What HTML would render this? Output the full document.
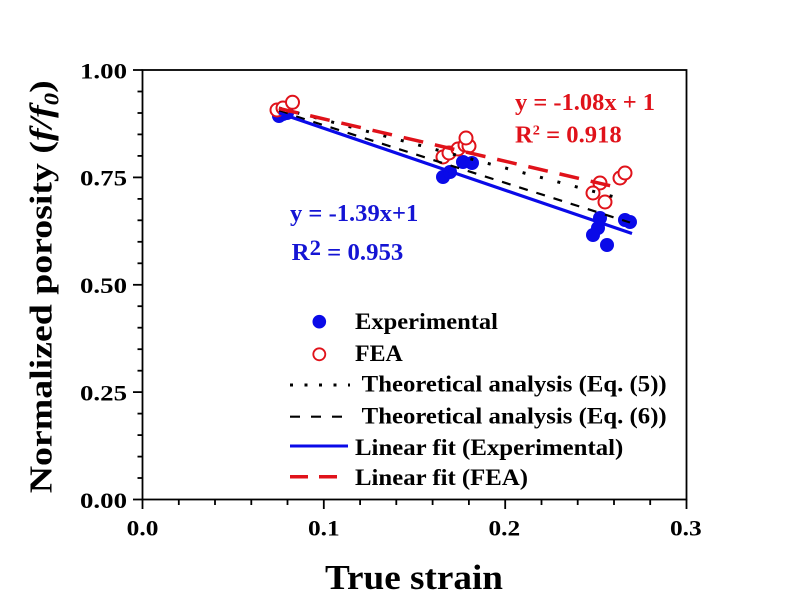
<!DOCTYPE html>
<html><head><meta charset="utf-8"><style>
html,body{margin:0;padding:0;background:#fff;}
svg{display:block;}
text{font-family:"Liberation Serif","Times New Roman",serif;font-weight:bold;}
</style></head><body>
<svg width="797" height="600" viewBox="0 0 797 600" xmlns="http://www.w3.org/2000/svg">
<rect width="797" height="600" fill="#fff"/>
<!-- ticks x -->
<g stroke="#000" stroke-width="1.8">
<line x1="142.5" y1="499.5" x2="142.5" y2="509"/>
<line x1="323.8" y1="499.5" x2="323.8" y2="509"/>
<line x1="505.2" y1="499.5" x2="505.2" y2="509"/>
<line x1="686.5" y1="499.5" x2="686.5" y2="509"/>
<line x1="178.8" y1="499.5" x2="178.8" y2="505"/>
<line x1="215.0" y1="499.5" x2="215.0" y2="505"/>
<line x1="251.3" y1="499.5" x2="251.3" y2="505"/>
<line x1="287.5" y1="499.5" x2="287.5" y2="505"/>
<line x1="360.1" y1="499.5" x2="360.1" y2="505"/>
<line x1="396.3" y1="499.5" x2="396.3" y2="505"/>
<line x1="432.6" y1="499.5" x2="432.6" y2="505"/>
<line x1="468.9" y1="499.5" x2="468.9" y2="505"/>
<line x1="541.5" y1="499.5" x2="541.5" y2="505"/>
<line x1="577.7" y1="499.5" x2="577.7" y2="505"/>
<line x1="614.0" y1="499.5" x2="614.0" y2="505"/>
<line x1="650.2" y1="499.5" x2="650.2" y2="505"/>
<!-- ticks y -->
<line x1="133" y1="70" x2="142.5" y2="70"/>
<line x1="133" y1="177.4" x2="142.5" y2="177.4"/>
<line x1="133" y1="284.8" x2="142.5" y2="284.8"/>
<line x1="133" y1="392.1" x2="142.5" y2="392.1"/>
<line x1="133" y1="499.5" x2="142.5" y2="499.5"/>
<line x1="137.5" y1="91.5" x2="142.5" y2="91.5"/>
<line x1="137.5" y1="113" x2="142.5" y2="113"/>
<line x1="137.5" y1="134.4" x2="142.5" y2="134.4"/>
<line x1="137.5" y1="155.9" x2="142.5" y2="155.9"/>
<line x1="137.5" y1="198.9" x2="142.5" y2="198.9"/>
<line x1="137.5" y1="220.3" x2="142.5" y2="220.3"/>
<line x1="137.5" y1="241.8" x2="142.5" y2="241.8"/>
<line x1="137.5" y1="263.3" x2="142.5" y2="263.3"/>
<line x1="137.5" y1="306.2" x2="142.5" y2="306.2"/>
<line x1="137.5" y1="327.7" x2="142.5" y2="327.7"/>
<line x1="137.5" y1="349.2" x2="142.5" y2="349.2"/>
<line x1="137.5" y1="370.7" x2="142.5" y2="370.7"/>
<line x1="137.5" y1="413.6" x2="142.5" y2="413.6"/>
<line x1="137.5" y1="435.1" x2="142.5" y2="435.1"/>
<line x1="137.5" y1="456.6" x2="142.5" y2="456.6"/>
<line x1="137.5" y1="478" x2="142.5" y2="478"/>
</g>
<rect x="142.5" y="70" width="544" height="429.5" fill="none" stroke="#000" stroke-width="1.8"/>

<!-- tick labels -->
<g font-size="22" fill="#000">
<text x="80" y="78.3" textLength="47" lengthAdjust="spacingAndGlyphs">1.00</text>
<text x="80" y="185.7" textLength="47" lengthAdjust="spacingAndGlyphs">0.75</text>
<text x="80" y="293" textLength="47" lengthAdjust="spacingAndGlyphs">0.50</text>
<text x="80" y="400.4" textLength="47" lengthAdjust="spacingAndGlyphs">0.25</text>
<text x="80" y="507.8" textLength="47" lengthAdjust="spacingAndGlyphs">0.00</text>
<text x="126.7" y="535.7" textLength="31.7" lengthAdjust="spacingAndGlyphs">0.0</text>
<text x="308" y="535.7" textLength="31.7" lengthAdjust="spacingAndGlyphs">0.1</text>
<text x="488.5" y="535.7" textLength="31.7" lengthAdjust="spacingAndGlyphs">0.2</text>
<text x="670" y="535.7" textLength="31.7" lengthAdjust="spacingAndGlyphs">0.3</text>
</g>

<!-- axis titles -->
<text x="325" y="589" font-size="35" textLength="178" lengthAdjust="spacingAndGlyphs">True strain</text>
<text transform="translate(51.5,493.3) rotate(-90)" font-size="32" textLength="413" lengthAdjust="spacingAndGlyphs">Normalized porosity (<tspan font-style="italic">f/f</tspan><tspan font-style="italic" font-size="21" dy="7">0</tspan><tspan dy="-7">)</tspan></text>

<!-- blue experimental points -->
<g fill="#0a0ae8">
<circle cx="279" cy="116" r="7"/>
<circle cx="283" cy="114" r="7"/>
<circle cx="287" cy="113" r="7"/>
<circle cx="443" cy="177" r="7"/>
<circle cx="450" cy="172" r="7"/>
<circle cx="463" cy="162" r="7"/>
<circle cx="472" cy="163" r="7"/>
<circle cx="600" cy="218" r="7"/>
<circle cx="598" cy="228" r="7"/>
<circle cx="593" cy="235" r="7"/>
<circle cx="607" cy="245" r="7"/>
<circle cx="625" cy="220" r="7"/>
<circle cx="630" cy="222" r="7"/>
</g>
<!-- red FEA points -->
<g fill="#fff" stroke="#e0121a" stroke-width="2">
<circle cx="277" cy="110" r="6.5"/>
<circle cx="283" cy="108" r="6.5"/>
<circle cx="292.5" cy="102.3" r="6.5"/>
<circle cx="443" cy="157" r="6.5"/>
<circle cx="449" cy="153" r="6.5"/>
<circle cx="458" cy="149" r="6.5"/>
<circle cx="465" cy="145" r="6.5"/>
<circle cx="469" cy="146" r="6.5"/>
<circle cx="466" cy="138" r="6.5"/>
<circle cx="600" cy="183" r="6.5"/>
<circle cx="593" cy="193" r="6.5"/>
<circle cx="605" cy="202" r="6.5"/>
<circle cx="620" cy="178" r="6.5"/>
<circle cx="625" cy="173" r="6.5"/>
</g>

<!-- lines -->
<line x1="279" y1="108" x2="624" y2="199.5" stroke="#000" stroke-width="3" stroke-dasharray="3 15"/>
<line x1="279" y1="111" x2="630" y2="222.5" stroke="#000" stroke-width="2.2" stroke-dasharray="9 9"/>
<line x1="279" y1="113" x2="632" y2="233.5" stroke="#0a0ae8" stroke-width="3.2"/>
<line x1="279" y1="108.5" x2="620" y2="188" stroke="#e0121a" stroke-width="3.5" stroke-dasharray="20 12"/>

<!-- equations -->
<g fill="#1414d4" font-size="24">
<text x="290" y="221" textLength="128.3" lengthAdjust="spacingAndGlyphs">y = -1.39x+1</text>
<text x="291.7" y="260" textLength="111.6" lengthAdjust="spacingAndGlyphs">R<tspan font-size="22" dy="-5">2</tspan><tspan dy="5"> = 0.953</tspan></text>
</g>
<g fill="#e0121a" font-size="24">
<text x="515" y="110" textLength="140" lengthAdjust="spacingAndGlyphs">y = -1.08x + 1</text>
<text x="515" y="142.7" textLength="106.7" lengthAdjust="spacingAndGlyphs">R<tspan font-size="14" dy="-8">2</tspan><tspan dy="8"> = 0.918</tspan></text>
</g>

<!-- legend -->
<circle cx="319.3" cy="321.7" r="6.8" fill="#0a0ae8"/>
<circle cx="319.3" cy="354.3" r="6" fill="#fff" stroke="#e0121a" stroke-width="1.8"/>
<line x1="290" y1="385" x2="350" y2="385" stroke="#000" stroke-width="3" stroke-dasharray="3 11.5"/>
<line x1="290" y1="416.7" x2="345" y2="416.7" stroke="#000" stroke-width="2.2" stroke-dasharray="10 11"/>
<line x1="290" y1="446" x2="348" y2="446" stroke="#0a0ae8" stroke-width="3"/>
<line x1="290" y1="476.7" x2="338" y2="476.7" stroke="#e0121a" stroke-width="3.5" stroke-dasharray="18 11"/>
<g font-size="23" fill="#000">
<text x="355" y="329" textLength="143" lengthAdjust="spacingAndGlyphs">Experimental</text>
<text x="355" y="361" textLength="47.7" lengthAdjust="spacingAndGlyphs">FEA</text>
<text x="361.7" y="391.7" textLength="305" lengthAdjust="spacingAndGlyphs">Theoretical analysis (Eq. (5))</text>
<text x="361.7" y="423.3" textLength="305" lengthAdjust="spacingAndGlyphs">Theoretical analysis (Eq. (6))</text>
<text x="355" y="455" textLength="268.3" lengthAdjust="spacingAndGlyphs">Linear fit (Experimental)</text>
<text x="355" y="485" textLength="173" lengthAdjust="spacingAndGlyphs">Linear fit (FEA)</text>
</g>
</svg>
</body></html>
